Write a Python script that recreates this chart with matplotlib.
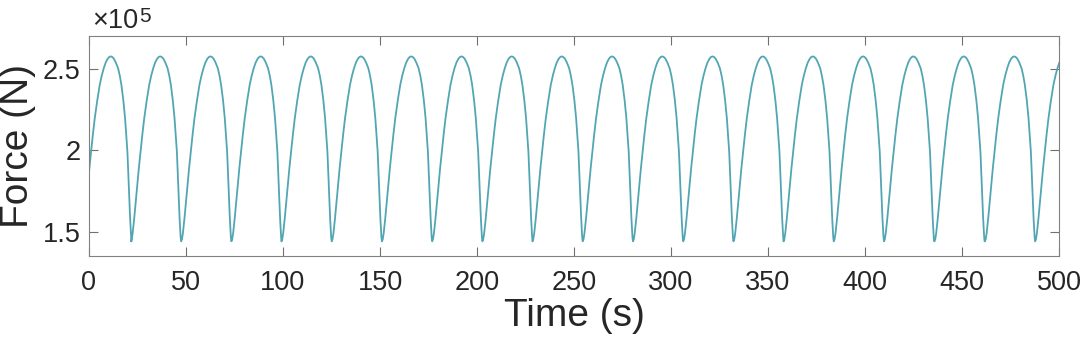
import numpy as np
import matplotlib
matplotlib.use("Agg")
import matplotlib.pyplot as plt

plt.rcParams['font.family'] = ['Liberation Sans', 'DejaVu Sans']

# One oscillation cycle (trough -> peak -> trough)
cycle_phase_s = [0.0, 0.4, 0.9, 1.7, 2.5, 3.25, 4.1, 4.96, 5.9, 6.86, 8.1, 9.43,
                 10.5, 11.5, 12.5, 13.5, 14.3, 15.1, 15.9, 16.7, 17.7, 18.9,
                 19.8, 20.6, 21.6, 22.5, 23.1, 23.7, 24.05, 24.4, 24.75, 25.1,
                 25.45, 25.65, 25.85]
cycle_force_e5 = [1.440, 1.452, 1.490, 1.580, 1.685, 1.785, 1.890, 1.990, 2.095,
                  2.194, 2.300, 2.400, 2.458, 2.502, 2.537, 2.560, 2.571, 2.575,
                  2.571, 2.561, 2.538, 2.502, 2.455, 2.400, 2.305, 2.194, 2.095,
                  1.990, 1.888, 1.785, 1.680, 1.580, 1.500, 1.462, 1.440]

# Times of the force minima
trough_times_s = [-3.9, 21.6, 47.5, 73.4, 99.2, 125.1, 151.0, 176.9, 202.8,
                  228.6, 254.5, 280.4, 306.3, 332.2, 358.0, 383.9, 409.8,
                  435.8, 461.8, 487.7]

x_ticks = [0, 50, 100, 150, 200, 250, 300, 350, 400, 450, 500]
y_ticks_e5 = [1.5, 2.0, 2.5]
y_tick_labels = ['1.5', '2', '2.5']

# Assemble the time series from the read cycle and trough times
t_parts, f_parts = [], []
for t0 in trough_times_s:
    t_parts.append(np.array(cycle_phase_s) + t0)
    f_parts.append(np.array(cycle_force_e5) * 1e5)
time = np.concatenate(t_parts)
force = np.concatenate(f_parts)

W, H = 1080, 349
fig = plt.figure(figsize=(W / 100, H / 100), dpi=100)
ax = fig.add_axes([89 / W, 1 - 256 / H, 970 / W, 220 / H])

ax.plot(time, force, color='#52A6B3', lw=1.3, solid_joinstyle='round')

ax.set_xlim(0, 500)
ax.set_ylim(1.35e5, 2.7e5)
ax.set_xticks(x_ticks)
ax.set_xticklabels([str(v) for v in x_ticks])
ax.set_yticks([v * 1e5 for v in y_ticks_e5])
ax.set_yticklabels(y_tick_labels)

text_color = '#262626'
ax.tick_params(axis='both', direction='in', length=6.5, width=0.8,
               color='#707070', labelsize=19.5, labelcolor=text_color,
               top=True, right=True)
ax.tick_params(axis='x', pad=10)
ax.tick_params(axis='y', pad=6)
for sp in ax.spines.values():
    sp.set_color('#808080')
    sp.set_linewidth(0.8)

ax.set_xlabel('Time (s)', fontsize=28, color=text_color, va='center')
ax.xaxis.set_label_coords(0.5, -0.272)
ax.set_ylabel('Force (N)', fontsize=28, color=text_color, va='center')
ax.yaxis.set_label_coords(-0.0735, 0.5)

# Axis multiplier label (x10^5)
fig.text(92 / W, 1 - 28 / H, '×10', fontsize=19.5, color=text_color,
         ha='left', va='baseline')
fig.text(139 / W, 1 - 22 / H, '5', fontsize=15, color=text_color,
         ha='left', va='baseline')

fig.savefig('out.png', dpi=100)
